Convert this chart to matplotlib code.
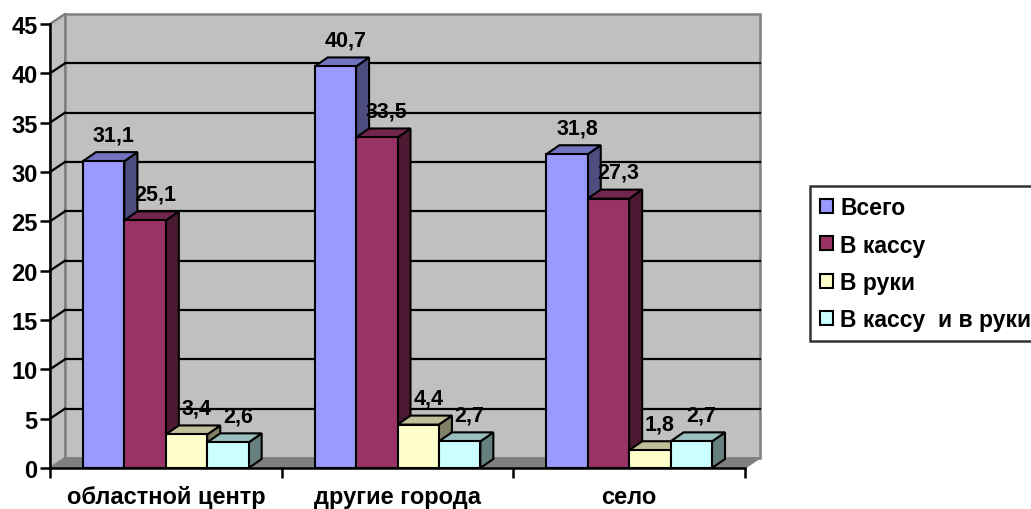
import matplotlib.pyplot as plt
from matplotlib.patches import Polygon, Rectangle, Patch

plt.rcParams['font.family'] = ['Liberation Sans', 'DejaVu Sans']
plt.rcParams['font.weight'] = 'bold'

categories = ['областной центр', 'другие города', 'село']
series = ['Всего', 'В кассу', 'В руки', 'В кассу  и в руки']
vsego = [31.1, 40.7, 31.8]
v_kassu = [25.1, 33.5, 27.3]
v_ruki = [3.4, 4.4, 1.8]
kassu_i_ruki = [2.6, 2.7, 2.7]
values = [vsego, v_kassu, v_ruki, kassu_i_ruki]

# front / top / side shades for each series
front = ['#9999FF', '#993366', '#FFFFCC', '#CCFFFF']
top = ['#7373BF', '#73264D', '#BFBF99', '#99BFBF']
side = ['#4D4D80', '#4D1A33', '#808066', '#668080']

W, H = 1031, 510
fig = plt.figure(figsize=(W / 100, H / 100), dpi=100)
ax_l, ax_r, ax_t, ax_b = 50, 745, 25, 469
ax = fig.add_axes([ax_l / W, (H - ax_b) / H, (ax_r - ax_l) / W, (ax_b - ax_t) / H])
ymax = 45
ax.set_xlim(0, 3)
ax.set_ylim(0, ymax)
ax.patch.set_visible(False)

# pixel -> data unit conversion
px_x = 3 / (ax_r - ax_l)
px_y = ymax / (ax_b - ax_t)
DX, DY = 15 * px_x, 10 * px_y      # wall depth
BDX, BDY = 13 * px_x, 9 * px_y     # bar depth

kw = dict(clip_on=False)
# back wall, side wall, floor
ax.add_patch(Rectangle((DX, DY), 3, ymax, fc='#C0C0C0', ec='#808080', lw=1.8, zorder=0, **kw))
ax.add_patch(Polygon([(0, 0), (DX, DY), (DX, ymax + DY), (0, ymax)], closed=True,
                     fc='#C0C0C0', ec='#808080', lw=1.4, zorder=0, **kw))
ax.add_patch(Polygon([(0, 0), (3, 0), (3 + DX, DY), (DX, DY)], closed=True,
                     fc='#808080', ec='#808080', lw=1, zorder=0.5, **kw))

# gridlines on the walls
for y in range(5, ymax, 5):
    ax.plot([DX, 3 + DX], [y + DY, y + DY], color='black', lw=1.6, zorder=1, **kw)
    ax.plot([0, DX], [y, y + DY], color='black', lw=1.6, zorder=1, **kw)
ax.plot([0, DX], [ymax, ymax + DY], color='#808080', lw=1.6, zorder=1, **kw)

gap = 33 / 231.7
bw = (1 - 2 * gap) / 4
z = 2
for i in range(len(categories)):
    for j, vals in enumerate(values):
        v = vals[i]
        x = i + gap + j * bw
        ax.add_patch(Polygon([(x + bw, 0), (x + bw + BDX, BDY), (x + bw + BDX, v + BDY), (x + bw, v)],
                             closed=True, fc=side[j], ec='black', lw=1.5, zorder=z, **kw))
        ax.add_patch(Polygon([(x, v), (x + bw, v), (x + bw + BDX, v + BDY), (x + BDX, v + BDY)],
                             closed=True, fc=top[j], ec='black', lw=1.5, zorder=z, **kw))
        ax.add_patch(Rectangle((x, 0), bw, v, fc=front[j], ec='black', lw=1.5, zorder=z + 0.5, **kw))
        ax.annotate(f'{v:g}'.replace('.', ','), (x + bw / 2, v + BDY), xytext=(10, 7),
                    textcoords='offset pixels', ha='center', va='bottom',
                    fontsize=15.5, fontweight='bold', zorder=10)
        z += 1

# axes
for s in ['top', 'right']:
    ax.spines[s].set_visible(False)
for s in ['left', 'bottom']:
    ax.spines[s].set_linewidth(1.8)
    ax.spines[s].set_zorder(20)
ax.set_yticks(range(0, ymax + 1, 5))
ax.tick_params(axis='y', length=7, width=1.8, pad=2, labelsize=17)
ax.set_xticks([0, 1, 2, 3])
ax.set_xticklabels([])
ax.set_xticks([0.5, 1.5, 2.5], minor=True)
ax.set_xticklabels(categories, minor=True)
ax.tick_params(axis='x', which='major', length=7, width=1.8)
ax.tick_params(axis='x', which='minor', length=0, pad=12.5, labelsize=17)
for lbl in ax.get_yticklabels() + ax.get_xticklabels(minor=True):
    lbl.set_fontweight('bold')

handles = [Patch(fc=c, ec='black', lw=1.5) for c in front]
fig.legend(handles, series, loc='upper left', bbox_to_anchor=(810 / W, (H - 187) / H),
           prop={'size': 16.5, 'weight': 'bold'}, frameon=True, fancybox=False,
           edgecolor='black', handlelength=0.57, handleheight=0.57, handletextpad=0.3,
           labelspacing=0.62, borderpad=0.45, borderaxespad=0)
fig.legends[0].get_frame().set_linewidth(1.8)

fig.savefig('out.png', dpi=100)
